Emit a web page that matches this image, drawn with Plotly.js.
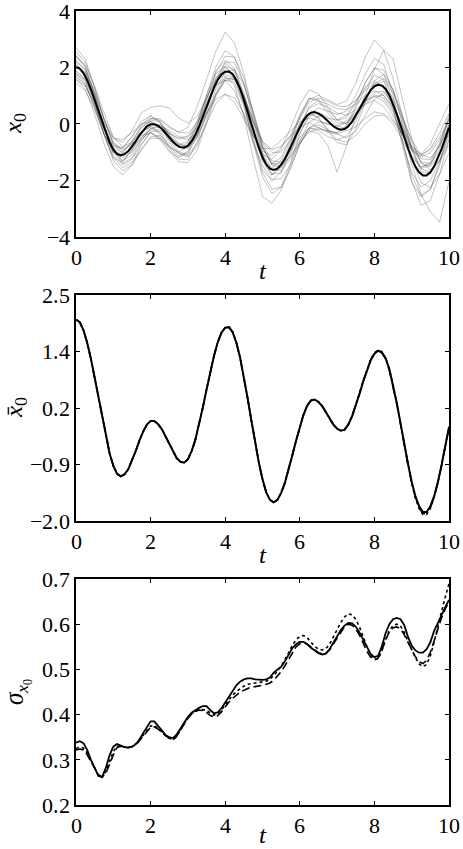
<!DOCTYPE html>
<html>
<head>
<meta charset="utf-8">
<script src="https://cdn.plot.ly/plotly-3.0.1.min.js"></script>
<style>
@font-face { font-family: 'CMSerif'; font-style: normal; font-weight: 400; src: local('Liberation Serif'), local('LiberationSerif'), local('LiberationSerif-Regular'); }
@font-face { font-family: 'CMSerif'; font-style: italic; font-weight: 400; src: local('Liberation Serif Italic'), local('LiberationSerif-Italic'); }
html,body{margin:0;padding:0;background:#fff;}#chart{width:463px;height:849px;}
</style>
</head>
<body>
<div id="chart"></div>
<script>
// time grids
const tFine = [0,0.1,0.2,0.3,0.4,0.5,0.6,0.7,0.8,0.9,1,1.1,1.2,1.3,1.4,1.5,1.6,1.7,1.8,1.9,2,2.1,2.2,2.3,2.4,2.5,2.6,2.7,2.8,2.9,3,3.1,3.2,3.3,3.4,3.5,3.6,3.7,3.8,3.9,4,4.1,4.2,4.3,4.4,4.5,4.6,4.7,4.8,4.9,5,5.1,5.2,5.3,5.4,5.5,5.6,5.7,5.8,5.9,6,6.1,6.2,6.3,6.4,6.5,6.6,6.7,6.8,6.9,7,7.1,7.2,7.3,7.4,7.5,7.6,7.7,7.8,7.9,8,8.1,8.2,8.3,8.4,8.5,8.6,8.7,8.8,8.9,9,9.1,9.2,9.3,9.4,9.5,9.6,9.7,9.8,9.9,10];
const tCoarse = [0,0.25,0.5,0.75,1,1.25,1.5,1.75,2,2.25,2.5,2.75,3,3.25,3.5,3.75,4,4.25,4.5,4.75,5,5.25,5.5,5.75,6,6.25,6.5,6.75,7,7.25,7.5,7.75,8,8.25,8.5,8.75,9,9.25,9.5,9.75,10];

// ensemble mean of x0 (solid), and two nearly identical estimates (dashed, dotted)
const xbarSolid = [2.01,1.96,1.80,1.55,1.23,0.85,0.45,0.05,-0.33,-0.65,-0.90,-1.06,-1.11,-1.07,-0.97,-0.80,-0.61,-0.40,-0.22,-0.08,-0.01,-0.01,-0.07,-0.17,-0.32,-0.48,-0.63,-0.75,-0.82,-0.84,-0.77,-0.61,-0.38,-0.08,0.26,0.62,0.97,1.29,1.56,1.75,1.85,1.86,1.76,1.55,1.25,0.88,0.45,0.01,-0.43,-0.83,-1.17,-1.43,-1.58,-1.63,-1.58,-1.44,-1.24,-0.98,-0.69,-0.40,-0.12,0.12,0.30,0.40,0.42,0.37,0.29,0.17,0.04,-0.08,-0.16,-0.20,-0.18,-0.08,0.08,0.29,0.53,0.78,1.01,1.20,1.33,1.39,1.36,1.24,1.02,0.71,0.35,-0.05,-0.47,-0.86,-1.22,-1.51,-1.71,-1.82,-1.82,-1.71,-1.51,-1.23,-0.89,-0.51,-0.13];
const xbarDashed = [2.01,1.96,1.80,1.55,1.23,0.85,0.45,0.05,-0.33,-0.65,-0.90,-1.06,-1.11,-1.07,-0.97,-0.80,-0.61,-0.40,-0.22,-0.08,-0.01,-0.01,-0.07,-0.17,-0.32,-0.48,-0.63,-0.75,-0.82,-0.84,-0.77,-0.61,-0.38,-0.08,0.26,0.62,0.97,1.29,1.56,1.75,1.85,1.86,1.76,1.55,1.25,0.88,0.45,0.01,-0.43,-0.83,-1.17,-1.43,-1.58,-1.63,-1.58,-1.44,-1.24,-0.98,-0.69,-0.40,-0.12,0.12,0.30,0.40,0.42,0.37,0.29,0.17,0.04,-0.08,-0.16,-0.21,-0.19,-0.08,0.08,0.30,0.54,0.79,1.02,1.21,1.34,1.38,1.35,1.23,1.01,0.70,0.33,-0.07,-0.49,-0.88,-1.24,-1.53,-1.74,-1.85,-1.85,-1.73,-1.52,-1.24,-0.90,-0.52,-0.14];
const xbarDotted = [2.01,1.96,1.80,1.55,1.23,0.85,0.45,0.05,-0.33,-0.65,-0.90,-1.06,-1.11,-1.07,-0.97,-0.80,-0.61,-0.40,-0.22,-0.08,-0.01,-0.01,-0.07,-0.17,-0.32,-0.48,-0.63,-0.75,-0.82,-0.84,-0.77,-0.61,-0.38,-0.08,0.26,0.62,0.97,1.29,1.56,1.75,1.85,1.86,1.76,1.55,1.25,0.88,0.45,0.01,-0.43,-0.83,-1.17,-1.43,-1.58,-1.63,-1.58,-1.44,-1.24,-0.98,-0.69,-0.40,-0.12,0.12,0.30,0.40,0.42,0.37,0.29,0.17,0.04,-0.08,-0.16,-0.20,-0.18,-0.07,0.09,0.30,0.54,0.79,1.02,1.21,1.35,1.40,1.37,1.25,1.03,0.72,0.34,-0.07,-0.50,-0.89,-1.25,-1.55,-1.75,-1.87,-1.87,-1.75,-1.53,-1.25,-0.90,-0.51,-0.12];

// standard deviation of x0: three estimates
const sigmaSolid = [0.338,0.341,0.337,0.322,0.300,0.280,0.264,0.262,0.282,0.310,0.329,0.335,0.332,0.328,0.327,0.329,0.334,0.345,0.359,0.373,0.385,0.385,0.375,0.363,0.355,0.350,0.348,0.356,0.370,0.384,0.395,0.404,0.410,0.415,0.419,0.419,0.410,0.403,0.405,0.414,0.427,0.440,0.453,0.465,0.473,0.478,0.480,0.480,0.478,0.477,0.477,0.478,0.482,0.493,0.500,0.506,0.518,0.533,0.547,0.556,0.561,0.561,0.556,0.548,0.541,0.536,0.533,0.535,0.545,0.560,0.573,0.587,0.597,0.603,0.602,0.595,0.582,0.565,0.548,0.534,0.527,0.530,0.551,0.580,0.600,0.611,0.614,0.611,0.598,0.572,0.553,0.542,0.537,0.537,0.545,0.560,0.585,0.604,0.622,0.638,0.654];
const sigmaDashed = [0.322,0.324,0.322,0.311,0.296,0.281,0.267,0.262,0.270,0.290,0.311,0.327,0.330,0.328,0.327,0.329,0.333,0.342,0.352,0.363,0.372,0.373,0.368,0.361,0.353,0.347,0.344,0.352,0.366,0.380,0.392,0.401,0.407,0.410,0.409,0.405,0.398,0.395,0.398,0.406,0.418,0.428,0.436,0.444,0.450,0.454,0.458,0.461,0.462,0.463,0.465,0.467,0.470,0.476,0.485,0.495,0.508,0.522,0.538,0.550,0.557,0.559,0.556,0.549,0.542,0.537,0.535,0.536,0.543,0.556,0.570,0.584,0.595,0.600,0.598,0.590,0.576,0.558,0.540,0.527,0.521,0.525,0.542,0.565,0.583,0.592,0.594,0.590,0.577,0.560,0.543,0.528,0.517,0.513,0.520,0.538,0.563,0.590,0.614,0.634,0.650];
const sigmaDotted = [0.325,0.328,0.326,0.315,0.298,0.281,0.266,0.261,0.274,0.296,0.318,0.330,0.331,0.328,0.327,0.330,0.335,0.344,0.355,0.366,0.375,0.376,0.370,0.362,0.354,0.348,0.345,0.352,0.366,0.381,0.393,0.402,0.408,0.411,0.411,0.409,0.403,0.399,0.402,0.410,0.422,0.433,0.443,0.451,0.458,0.463,0.467,0.469,0.470,0.471,0.472,0.474,0.478,0.486,0.496,0.507,0.521,0.537,0.553,0.566,0.573,0.575,0.570,0.561,0.551,0.545,0.543,0.546,0.556,0.572,0.588,0.604,0.616,0.623,0.621,0.611,0.594,0.572,0.550,0.533,0.522,0.524,0.541,0.566,0.586,0.597,0.600,0.596,0.582,0.562,0.543,0.526,0.512,0.506,0.511,0.530,0.560,0.596,0.628,0.660,0.690];

// individual sample paths of x0 (grey)
const path01 = [2.71,2.29,1.30,0.20,-0.65,-0.95,-0.70,-0.16,0.19,0.19,-0.13,-0.29,-0.12,0.62,1.57,2.58,3.25,2.87,1.78,0.39,-0.82,-1.41,-1.19,-0.49,0.33,0.91,0.87,0.50,0.14,0.21,0.74,1.45,1.98,1.91,1.21,0.14,-0.92,-1.58,-1.46,-0.72,0.32];
const path02 = [1.46,1.19,0.50,-0.35,-1.20,-1.55,-1.35,-0.91,-0.51,-0.51,-0.78,-1.04,-1.12,-0.68,0.02,0.73,1.05,0.92,0.38,-0.41,-0.97,-1.11,-0.84,-0.44,-0.12,0.06,-0.13,-0.30,-0.36,-0.24,-0.11,0.20,0.43,0.36,0.11,-0.36,-0.82,-1.08,-0.91,-0.47,0.17];
const path03 = [2.21,1.94,1.15,0.20,-0.50,-0.65,-0.25,0.39,0.59,0.64,0.57,0.21,0.03,0.27,0.92,1.53,1.75,1.62,0.98,0.09,-0.62,-0.91,-0.79,-0.39,0.18,0.76,0.92,0.80,0.64,0.61,0.84,1.20,1.43,1.36,0.91,0.19,-0.57,-1.08,-1.21,-0.77,-0.03];
const path04 = [1.81,1.44,0.55,-0.35,-1.00,-1.10,-0.85,-0.46,-0.21,-0.21,-0.48,-0.69,-0.82,-0.43,0.27,1.03,1.55,1.57,0.98,-0.01,-1.02,-1.61,-1.64,-1.24,-0.67,-0.24,-0.33,-0.75,-1.71,-0.79,0.29,0.80,1.43,1.61,1.21,0.29,-0.82,-1.58,-1.71,-1.27,-0.43];
const path05 = [2.41,1.99,1.05,-0.10,-1.00,-1.30,-0.95,-0.31,0.14,0.09,-0.38,-0.74,-0.62,0.07,1.02,1.88,2.25,1.97,1.08,-0.16,-1.27,-1.81,-1.49,-0.69,0.23,0.86,1.02,0.85,0.69,0.81,1.44,2.35,2.98,2.61,1.61,0.29,-0.92,-1.68,-1.76,-1.07,-0.03];
const path06 = [1.71,1.39,0.65,-0.25,-1.10,-1.45,-1.25,-0.71,-0.31,-0.46,-0.93,-1.34,-1.37,-0.93,0.02,0.98,1.55,1.47,0.63,-0.61,-1.72,-2.31,-2.24,-1.59,-0.72,-0.14,-0.03,-0.20,-0.36,-0.49,-0.26,0.30,0.88,1.11,0.81,-0.16,-1.42,-2.48,-3.11,-3.47,-2.03];
const path07 = [2.11,1.74,0.80,-0.35,-1.30,-1.65,-1.45,-0.91,-0.46,-0.41,-0.68,-1.04,-1.17,-0.78,0.12,1.08,1.70,1.37,0.28,-1.21,-2.57,-2.81,-2.34,-1.54,-0.72,-0.14,0.07,0.00,-0.11,0.06,0.39,0.80,1.03,0.91,0.41,-0.36,-1.12,-1.53,-1.36,-0.67,0.17];
const path08 = [1.61,1.24,0.35,-0.70,-1.50,-1.80,-1.45,-0.76,-0.26,-0.26,-0.58,-0.99,-1.07,-0.43,0.57,1.53,2.00,1.72,0.78,-0.41,-1.27,-1.56,-1.29,-0.59,0.28,0.91,0.82,0.40,0.04,0.01,0.34,0.80,1.13,1.16,0.71,-0.06,-0.77,-1.08,-0.71,0.03,0.72];
const path09 = [1.56,1.34,0.75,0.05,-0.50,-0.55,-0.30,-0.01,0.09,-0.06,-0.33,-0.49,-0.42,-0.13,0.37,0.88,1.05,0.77,0.18,-0.41,-0.87,-0.86,-0.59,-0.24,0.08,0.21,0.12,0.00,-0.06,0.11,0.39,0.70,0.83,0.61,0.16,-0.36,-0.92,-1.18,-1.01,-0.57,0.07];
const path10 = [2.26,1.89,0.95,-0.15,-0.85,-1.00,-0.60,-0.06,0.29,0.09,-0.38,-0.79,-0.87,-0.48,0.32,1.23,1.85,1.92,1.38,0.44,-0.67,-1.31,-1.34,-0.94,-0.32,0.26,0.42,0.25,-0.06,-0.19,0.19,1.00,1.93,2.61,2.31,0.94,-0.52,-1.38,-1.51,-1.07,-0.33];
const path11 = [2.01,1.79,1.00,-0.05,-0.90,-1.20,-1.00,-0.56,-0.16,-0.11,-0.33,-0.54,-0.47,0.12,0.92,1.63,1.90,1.62,0.68,-0.66,-1.87,-2.46,-2.24,-1.39,-0.37,0.36,0.57,0.45,0.34,0.46,0.99,1.75,2.33,2.11,1.01,-0.56,-2.02,-2.88,-2.71,-1.77,-0.53];
const path12 = [2.56,2.19,1.25,0.15,-0.70,-0.85,-0.45,0.09,0.29,0.04,-0.43,-0.84,-0.77,-0.08,0.92,1.78,2.05,1.67,0.73,-0.31,-1.07,-1.26,-0.89,-0.14,0.68,1.21,1.07,0.60,0.14,0.01,0.29,0.70,0.98,1.01,0.61,-0.11,-0.87,-1.33,-1.41,-0.87,0.22];
const path13 = [1.86,1.59,0.85,-0.10,-0.95,-1.30,-1.10,-0.51,-0.06,-0.01,-0.28,-0.69,-0.82,-0.38,0.57,1.53,2.05,1.92,1.03,-0.21,-1.32,-1.81,-1.54,-0.79,-0.02,0.36,0.22,-0.20,-0.56,-0.64,-0.41,0.00,0.28,0.31,0.01,-0.56,-1.17,-1.53,-1.41,-0.97,-0.33];
const path14 = [2.36,2.09,1.35,0.40,-0.45,-0.80,-0.65,-0.26,-0.11,-0.36,-0.83,-1.24,-1.27,-0.63,0.42,1.53,2.20,2.17,1.43,0.24,-0.87,-1.41,-1.39,-0.99,-0.47,-0.14,-0.23,-0.45,-0.56,-0.44,0.09,0.80,1.38,1.51,1.11,0.29,-0.62,-1.38,-1.61,-1.32,-0.73];
const path15 = [1.66,1.39,0.60,-0.35,-1.00,-1.05,-0.65,-0.11,0.09,-0.11,-0.58,-0.84,-0.67,-0.03,0.77,1.38,1.55,1.17,0.33,-0.66,-1.47,-1.96,-1.94,-1.44,-0.62,0.06,0.27,0.20,0.14,0.31,0.79,1.30,1.53,1.31,0.51,-0.66,-1.72,-2.23,-2.01,-1.27,-0.58];
const path16 = [2.16,1.74,0.75,-0.40,-1.20,-1.35,-0.90,-0.31,-0.06,-0.31,-0.78,-1.14,-0.97,-0.23,0.82,1.83,2.40,2.37,1.63,0.39,-0.77,-1.46,-1.54,-1.14,-0.57,-0.19,-0.13,-0.25,-0.31,-0.09,0.54,1.25,1.73,1.56,0.61,-0.76,-2.07,-2.58,-2.31,-1.47,-0.23];
const path17 = [1.91,1.54,0.70,-0.20,-0.80,-0.85,-0.45,-0.01,0.19,0.14,-0.08,-0.29,-0.32,0.02,0.67,1.33,1.65,1.57,0.98,0.14,-0.62,-1.01,-0.99,-0.59,-0.02,0.56,0.72,0.60,0.39,0.31,0.49,0.80,0.98,0.81,0.31,-0.36,-0.92,-1.13,-0.86,-0.32,0.37];
const path18 = [2.46,2.04,1.05,-0.05,-0.75,-0.90,-0.70,-0.41,-0.31,-0.56,-0.98,-1.19,-1.02,-0.33,0.67,1.63,2.15,1.87,0.83,-0.51,-1.62,-2.01,-1.69,-0.89,0.03,0.41,0.22,-0.25,-0.66,-0.74,-0.16,0.75,1.53,1.76,1.21,0.04,-1.22,-2.08,-2.26,-1.77,-1.03];
const path19 = [2.06,1.84,1.10,0.15,-0.70,-1.05,-0.90,-0.51,-0.31,-0.51,-0.83,-0.99,-0.77,-0.03,1.02,2.03,2.60,2.37,1.43,0.14,-1.07,-1.76,-1.74,-1.04,-0.12,0.61,0.82,0.70,0.54,0.51,0.69,1.00,1.18,1.01,0.51,-0.16,-0.82,-1.23,-1.26,-0.77,-0.13];
const path20 = [1.76,1.54,0.85,-0.05,-0.95,-1.40,-1.20,-0.61,-0.16,-0.06,-0.23,-0.44,-0.57,-0.28,0.37,1.08,1.60,1.62,1.03,0.09,-0.82,-1.41,-1.49,-1.14,-0.67,-0.29,-0.18,-0.25,-0.31,-0.04,0.64,1.45,1.98,1.76,0.81,-0.56,-1.82,-2.53,-2.31,-1.37,-0.03];
const samplePaths = [path01,path02,path03,path04,path05,path06,path07,path08,path09,path10,path11,path12,path13,path14,path15,path16,path17,path18,path19,path20];

// tick labels
const xTickVals = [0,2,4,6,8,10];
const topTickVals = [-4,-2,0,2,4];
const midTickVals = [-2.0,-0.875,0.25,1.375,2.5];
const midTickText = ['\u22122.0','\u22120.9','0.2','1.4','2.5'];
const botTickVals = [0.2,0.3,0.4,0.5,0.6,0.7];

const FONT = 'CMSerif, Liberation Serif, serif';
const traces = [];
samplePaths.forEach(p => traces.push({
  x: tCoarse, y: p, xaxis: 'x', yaxis: 'y', mode: 'lines', hoverinfo: 'skip',
  line: {color: 'rgba(50,50,50,0.36)', width: 0.8}
}));
traces.push({x: tFine, y: xbarSolid, xaxis: 'x', yaxis: 'y', mode: 'lines', line: {color: '#000', width: 2}});

traces.push({x: tFine, y: xbarDotted, xaxis: 'x2', yaxis: 'y2', mode: 'lines', line: {color: '#000', width: 1.6, dash: 'dot'}});
traces.push({x: tFine, y: xbarDashed, xaxis: 'x2', yaxis: 'y2', mode: 'lines', line: {color: '#000', width: 1.6, dash: 'dash'}});
traces.push({x: tFine, y: xbarSolid, xaxis: 'x2', yaxis: 'y2', mode: 'lines', line: {color: '#000', width: 2}});

traces.push({x: tFine, y: sigmaDotted, xaxis: 'x3', yaxis: 'y3', mode: 'lines', line: {color: '#000', width: 1.6, dash: 'dot'}});
traces.push({x: tFine, y: sigmaDashed, xaxis: 'x3', yaxis: 'y3', mode: 'lines', line: {color: '#000', width: 1.6, dash: '8px,4px'}});
traces.push({x: tFine, y: sigmaSolid, xaxis: 'x3', yaxis: 'y3', mode: 'lines', line: {color: '#000', width: 1.8}});

function ax(extra) {
  return Object.assign({
    showline: true, linecolor: '#000', linewidth: 1.8, mirror: 'ticks',
    ticks: 'inside', ticklen: 4, tickwidth: 1, tickcolor: '#000',
    showgrid: false, zeroline: false, fixedrange: true, ticklabeloverflow: 'allow',
    tickfont: {family: FONT, size: 22, color: '#000'}
  }, extra);
}
function xax(anchor) {
  return ax({anchor: anchor, range: [0, 10], tickvals: xTickVals});
}
function ytitle(text, y, shift) {
  return {text: text, xref: 'paper', yref: 'paper', x: 0, y: y, xanchor: 'center', yanchor: 'middle',
    xshift: shift, textangle: -90, showarrow: false, font: {family: FONT, size: 25, color: '#000'}};
}
function xtitle(y, shift) {
  return {text: '<i>t</i>', xref: 'paper', yref: 'paper', x: 0.5, y: y, xanchor: 'center', yanchor: 'middle',
    yshift: shift, showarrow: false, font: {family: FONT, size: 25, color: '#000'}};
}

const layout = {
  width: 463, height: 849,
  margin: {l: 76, r: 14, t: 11, b: 44},
  paper_bgcolor: '#fff', plot_bgcolor: '#fff',
  showlegend: false,
  font: {family: FONT, color: '#000'},
  xaxis: xax('y'),
  xaxis2: xax('y2'),
  xaxis3: xax('y3'),
  yaxis: ax({domain: [0.7154, 1], range: [-4, 4], tickvals: topTickVals}),
  yaxis2: ax({domain: [0.3577, 0.6423], range: [-2, 2.5], tickvals: midTickVals, ticktext: midTickText}),
  yaxis3: ax({domain: [0, 0.2846], range: [0.2, 0.7], tickvals: botTickVals, tickformat: '.1f'}),
  annotations: [
    ytitle('<i>x</i><sub>0</sub>', 0.8577, -61),
    ytitle('<i>x\u0304</i><sub>0</sub>', 0.5, -61),
    ytitle('<i>\u03c3</i><sub><i>x</i><sub>0</sub></sub>', 0.1423, -58),
    xtitle(0.7154, -34),
    xtitle(0.3577, -34),
    xtitle(0, -29)
  ]
};

Plotly.newPlot('chart', traces, layout, {displayModeBar: false, staticPlot: true});
</script>
</body>
</html>
